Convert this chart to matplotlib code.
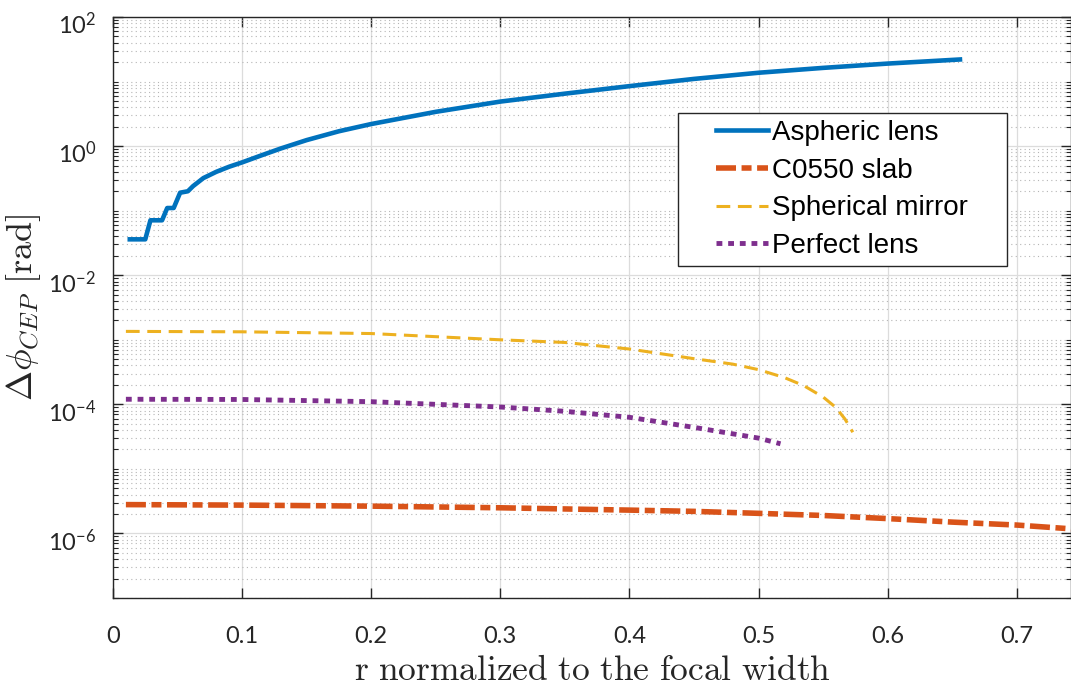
import numpy as np
import matplotlib
matplotlib.use("Agg")
import matplotlib.pyplot as plt
import matplotlib.transforms as mtransforms
from matplotlib.patches import Rectangle
from matplotlib.ticker import FixedLocator, NullFormatter
from matplotlib.legend_handler import HandlerLine2D

# data
asph_x = [0.013, 0.025, 0.029, 0.038, 0.042, 0.047, 0.052, 0.058, 0.062, 0.07,
          0.08, 0.09, 0.1, 0.115, 0.13, 0.15, 0.175, 0.2, 0.25, 0.3, 0.35,
          0.4, 0.45, 0.5, 0.55, 0.6, 0.656]
asph_y = [0.036, 0.036, 0.071, 0.071, 0.11, 0.11, 0.19, 0.20, 0.24, 0.32,
          0.40, 0.48, 0.56, 0.72, 0.92, 1.24, 1.7, 2.2, 3.4, 4.9, 6.5,
          8.5, 11.0, 13.7, 16.3, 19.0, 22.0]

slab_x = [0.01, 0.1, 0.2, 0.3, 0.4, 0.45, 0.5, 0.55, 0.6, 0.65, 0.7, 0.75]
slab_y = [2.8e-6, 2.75e-6, 2.65e-6, 2.5e-6, 2.3e-6, 2.2e-6, 2.05e-6, 1.9e-6,
          1.7e-6, 1.5e-6, 1.35e-6, 1.15e-6]

mirr_x = [0.01, 0.1, 0.2, 0.3, 0.35, 0.4, 0.45, 0.48, 0.5, 0.52, 0.535, 0.55,
          0.56, 0.567, 0.573]
mirr_y = [1.35e-3, 1.33e-3, 1.25e-3, 1.0e-3, 9.1e-4, 7.2e-4, 5.1e-4, 4.2e-4,
          3.45e-4, 2.6e-4, 1.95e-4, 1.3e-4, 8.9e-5, 5.9e-5, 3.7e-5]

perf_x = [0.01, 0.1, 0.2, 0.3, 0.35, 0.4, 0.45, 0.5, 0.517]
perf_y = [1.2e-4, 1.19e-4, 1.1e-4, 9.1e-5, 7.8e-5, 6.3e-5, 4.4e-5, 3.0e-5,
          2.45e-5]

labels = ["Aspheric lens", "C0550 slab", "Spherical mirror", "Perfect lens"]
colors = ["#0072BD", "#D95319", "#EDB120", "#7E2F8E"]


class RightLine(HandlerLine2D):
    # legend sample drawn only on the right part of the handle box (MATLAB look)
    def get_xdata(self, legend, xdescent, ydescent, width, height, fontsize):
        x1 = width - xdescent
        x0 = x1 - 1.9 * fontsize
        xs = np.array([x0, x1])
        return xs, xs


plt.rcParams['font.family'] = ['Lato', 'DejaVu Sans']
plt.rcParams['mathtext.fontset'] = 'cm'

fig = plt.figure(figsize=(10.71, 6.92), dpi=100)
ax = fig.add_axes([0.1055, 0.1358, 0.8945, 0.8396])

ax.plot(asph_x, asph_y, color=colors[0], lw=3.3, label=labels[0])
ax.plot(slab_x, slab_y, color=colors[1], lw=4, dashes=(3.6, 1.0, 1.8, 1.0), label=labels[1])
ax.plot(mirr_x, mirr_y, color=colors[2], lw=2.2, dashes=(4.5, 2.5), label=labels[2])
ax.plot(perf_x, perf_y, color=colors[3], lw=3.5, dashes=(1.2, 1.2), label=labels[3])

ax.set_yscale('log')
ax.set_xlim(0, 0.742)
ax.set_ylim(1e-7, 1e2)

ax.set_xticks(np.arange(0, 0.75, 0.1))
ax.set_xticklabels(['0', '0.1', '0.2', '0.3', '0.4', '0.5', '0.6', '0.7'])

major = [10.0 ** k for k in range(-6, 3, 2)]
minor = [m * 10.0 ** k for k in range(-7, 2) for m in range(1, 10)
         if not (m == 1 and k % 2 == 0)]
ax.yaxis.set_major_locator(FixedLocator(major))
ax.yaxis.set_minor_locator(FixedLocator(minor))
ax.yaxis.set_minor_formatter(NullFormatter())
ax.set_yticklabels([r'$\mathregular{10^{%d}}$' % k for k in range(-6, 3, 2)])

ax.tick_params(which='both', direction='in', top=True, right=True,
               labelsize=17, colors='#262626')
ax.tick_params(axis='x', pad=20)
ax.tick_params(axis='y', pad=12)
ax.tick_params(which='major', length=7, width=1)
ax.tick_params(which='minor', length=3.5, width=0.8)
ax.tick_params(axis='x', which='minor', bottom=False, top=False)

# MATLAB centres the whole "10^k" on the tick, so nudge labels down a bit
shift = mtransforms.ScaledTranslation(0, -6 / 100, fig.dpi_scale_trans)
for lab in ax.get_yticklabels():
    lab.set_transform(lab.get_transform() + shift)

ax.grid(True, which='major', color='#dcdcdc', lw=0.9, ls='-')
ax.grid(True, which='minor', axis='y', color='#b5b5b5', lw=0.8, ls=(0, (1, 3)))
ax.set_axisbelow(True)
for s in ax.spines.values():
    s.set_color('#262626')
    s.set_linewidth(1)

ax.set_xlabel(r'$\mathrm{r\ normalized\ to\ the\ focal\ width}$', fontsize=25.5,
              color='#262626', labelpad=5)
ax.set_ylabel(r'$\Delta\phi_{CEP}\ \mathrm{[rad]}$', fontsize=26,
              color='#262626', labelpad=4)

handles, _ = ax.get_legend_handles_labels()
leg = ax.legend(handles, labels, loc='upper left',
                bbox_to_anchor=(0.5898, 0.8348),
                prop={'family': 'Liberation Sans', 'size': 20},
                frameon=False, handlelength=3.0, handletextpad=0.15,
                labelspacing=0.42, borderpad=0.25, borderaxespad=0,
                handler_map={h: RightLine() for h in handles})

# MATLAB-style legend box: wider padding on the right than matplotlib gives
fig.canvas.draw()
bb = leg.get_window_extent()
frame = Rectangle((bb.x0, bb.y0), bb.width + 32, bb.height,
                  transform=mtransforms.IdentityTransform(),
                  facecolor='white', edgecolor='#262626', lw=1,
                  zorder=4.9, clip_on=False)
ax.add_artist(frame)

fig.savefig('out.png', dpi=100)
